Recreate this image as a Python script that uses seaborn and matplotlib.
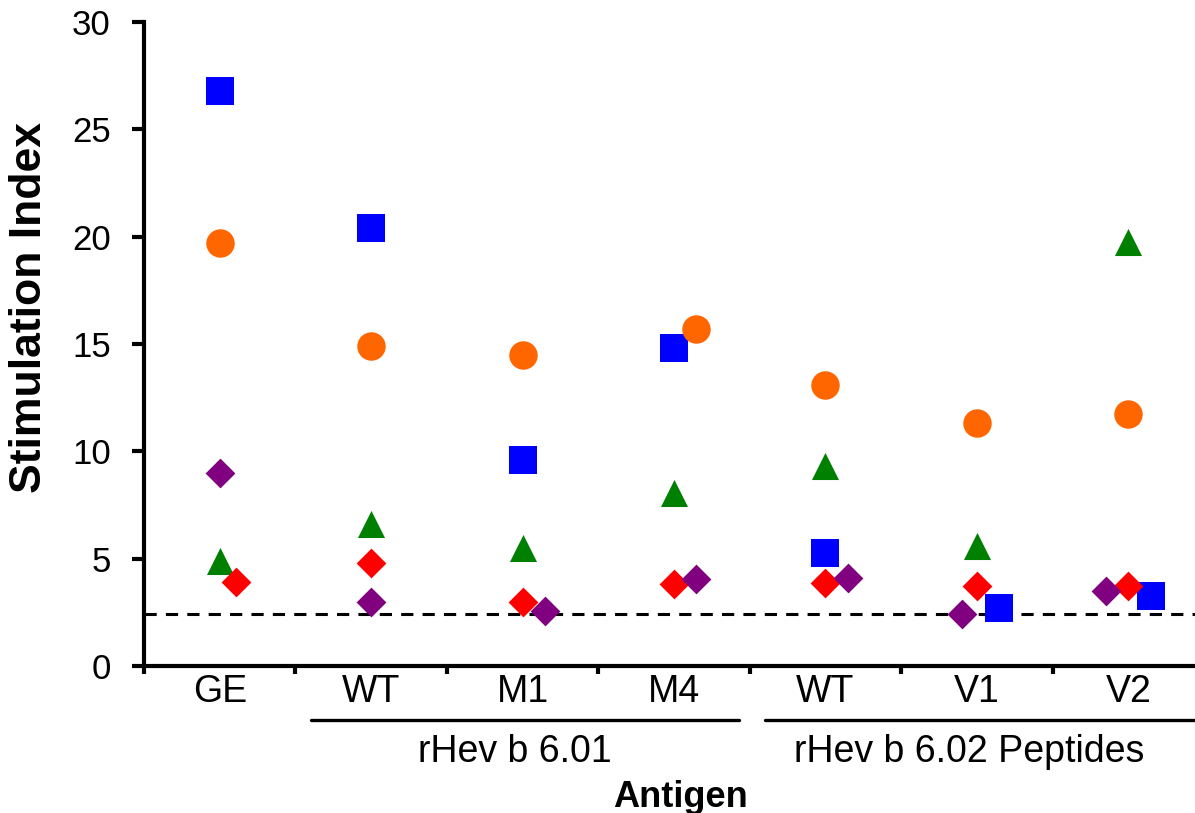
import matplotlib
matplotlib.use("Agg")
import matplotlib.pyplot as plt
import matplotlib.transforms as mtransforms
import seaborn as sns
import pandas as pd
import numpy as np

categories = ["GE", "WT", "M1", "M4", "WT", "V1", "V2"]
series_names = ["S1", "S2", "S3", "S4", "S5"]
s1_blue_square = [26.8, 20.4, 9.6, 14.8, 5.25, 2.7, 3.25]
s2_orange_circle = [19.7, 14.9, 14.5, 15.7, 13.1, 11.3, 11.75]
s3_green_triangle = [4.9, 6.6, 5.5, 8.05, 9.3, 5.6, 19.75]
s4_red_diamond = [3.9, 4.8, 3.0, 3.8, 3.85, 3.75, 3.75]
s5_purple_diamond = [9.0, 3.0, 2.55, 4.05, 4.1, 2.4, 3.5]
threshold = 2.42
group_labels = ["rHev b 6.01", "rHev b 6.02 Peptides"]

values = [s1_blue_square, s2_orange_circle, s3_green_triangle, s4_red_diamond, s5_purple_diamond]

# styling (presentation only)
colors = ["#0000FF", "#FF6600", "#008000", "#FF0000", "#800080"]
markers = ["s", "o", "^", "D", "D"]
sizes = [400, 420, 380, 230, 230]
dodge = [
    [0, 0, 0, 0, 0, 0.145, 0.15],
    [0, 0, 0, 0.145, 0, 0, 0],
    [0, 0, 0, 0, 0, 0, 0],
    [0.105, 0, 0, 0, 0, 0, 0],
    [0, 0, 0.15, 0.145, 0.15, -0.1, -0.145],
]

sns.set_theme(style="white")
plt.rcParams["font.family"] = ["Liberation Sans", "DejaVu Sans"]
for k in ["text.color", "axes.labelcolor", "xtick.color", "ytick.color", "axes.edgecolor"]:
    plt.rcParams[k] = "black"

fig = plt.figure(figsize=(11.95, 8.13), dpi=100)
ax = fig.add_axes([144 / 1195, 147 / 813, 1060 / 1195, 644 / 813])

for name, vals, c, m, s, off in zip(series_names, values, colors, markers, sizes, dodge):
    df = pd.DataFrame({"x": np.arange(len(categories)) + np.array(off), "y": vals})
    sns.scatterplot(data=df, x="x", y="y", color=c, marker=m, s=s, linewidth=0, ax=ax, zorder=3, clip_on=False)

ax.axhline(threshold, color="black", linestyle=(0, (4, 3)), linewidth=2.2, zorder=2)

ax.set_xlim(-0.5, 6.5)
ax.set_ylim(0, 30)
ax.set_yticks(np.arange(0, 31, 5))
ax.set_xticks(np.arange(len(categories)))
ax.set_xticklabels(categories)
ax.set_xticks(np.arange(len(categories) + 1) - 0.5, minor=True)
ax.tick_params(axis="x", which="major", length=0, labelsize=27, pad=6)
ax.tick_params(axis="x", which="minor", length=6, width=3, color="black", direction="out")
ax.tick_params(axis="y", which="major", length=9, width=3, color="black", direction="out", labelsize=25, pad=15)
ax.tick_params(left=True, bottom=True, which="both")
for sp in ["top", "right"]:
    ax.spines[sp].set_visible(False)
for sp in ["left", "bottom"]:
    ax.spines[sp].set_linewidth(3)
    ax.spines[sp].set_color("black")

ax.set_xlabel("")
ax.set_ylabel("")
fig.text(30 / 1195, 1 - 307 / 813, "Stimulation Index", rotation=90, ha="center", va="center",
         fontsize=32, fontweight="bold")

trans = mtransforms.blended_transform_factory(ax.transData, ax.transAxes)
ax.plot([0.6, 3.43], [-0.084, -0.084], color="black", lw=2.4, transform=trans, clip_on=False)
ax.plot([3.6, 6.5], [-0.084, -0.084], color="black", lw=2.4, transform=trans, clip_on=False)
ax.text(1.95, -0.149, group_labels[0], transform=trans, ha="center", va="baseline", fontsize=27)
ax.text(4.95, -0.149, group_labels[1], transform=trans, ha="center", va="baseline", fontsize=27)
ax.text(3.04, -0.219, "Antigen", transform=trans, ha="center", va="baseline", fontsize=26, fontweight="bold")

fig.savefig("out.png", dpi=100)
